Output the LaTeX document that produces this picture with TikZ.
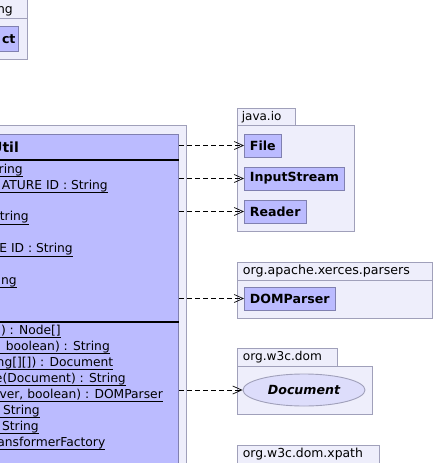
\documentclass[tikz,border=0pt]{standalone}
\usepackage{fontspec}
\setmainfont{DejaVu Sans}
\usetikzlibrary{arrows.meta,shapes.geometric}
\definecolor{pkgfill}{RGB}{238,238,251}
\definecolor{pkgline}{RGB}{160,160,186}
\definecolor{clsfill}{RGB}{187,187,255}
\definecolor{clsline}{RGB}{128,128,176}
\definecolor{ifcfill}{RGB}{221,221,251}
\newcommand\pkgfont{\fontsize{12.4pt}{15pt}\selectfont}
\newcommand\memberfont{\fontsize{12.3pt}{15pt}\selectfont}
\newcommand\clsfont{\fontsize{12.6pt}{15pt}\selectfont\bfseries}
\newcommand\ulattr[1]{\setbox0\hbox{#1}\llap{\rule[-3.6pt]{30pt}{0.9pt}}\rlap{\rule[-3.6pt]{\wd0}{0.9pt}}\box0}
\newcommand\pkgname[2]{\resizebox{#1}{!}{#2}}

\tikzset{
  pkg/.style={fill=pkgfill, draw=pkgline, line width=0.9pt},
  pkglabel/.style={font=\pkgfont, inner sep=0pt, anchor=base west},
  clsbox/.style={fill=clsfill, draw=clsline, line width=0.9pt, inner sep=0pt},
  cls/.style={clsbox, font=\clsfont, inner xsep=5.5pt, inner ysep=0pt, minimum height=23pt, anchor=west},
  ifc/.style={ellipse, fill=ifcfill, draw=pkgline, line width=0.9pt, font=\clsfont\itshape, minimum width=122pt, minimum height=32pt, inner sep=0pt},
  clsname/.style={font=\fontsize{14pt}{17pt}\selectfont\bfseries, inner sep=0pt, anchor=base east},
  member/.style={font=\memberfont, inner sep=0pt, anchor=base east},
  sep/.style={line width=1.2pt},
  dep/.style={-{Straight Barb[length=9pt,width=8pt]}, dash pattern=on 5pt off 3pt, line width=0.7pt},
}

\begin{document}
\begin{tikzpicture}[x=1pt, y=-1pt]
  \useasboundingbox (0,0) rectangle (433,463);

  % package cut at the top left
  \draw[pkg] (-20,-5) rectangle (27,18);
  \draw[pkg] (-20,18) rectangle (27,59);
  \node[pkglabel, anchor=base east] (langlbl) at (13,13.5) {ng};
  \draw[clsbox] (-20,26) rectangle (18,51);
  \node[member, font=\clsfont] (object) at (15.7,43) {ct};

  % package of the util class
  \draw[pkg] (-20,125) rectangle (186,480);
  \node[clsbox, anchor=north east, minimum width=200pt, minimum height=346pt] (util) at (179,134) {};
  \node[clsname] (utilname) at (19,152.3) {Util};
  \draw[sep] (-20,160) -- (179,160);
  \draw[sep] (-20,322) -- (179,322);

  \node[member] (a1) at (23,173.3) {\ulattr{ring}};
  \node[member] (a2) at (108,189.3) {\ulattr{ATURE ID : String}};
  \node[member] (a3) at (29,220.8) {\ulattr{tring}};
  \node[member] (a4) at (73,252.8) {\ulattr{E ID : String}};
  \node[member] (a5) at (17,284.5) {\ulattr{ng}};

  \node[member] (m1) at (61,334.3) {\ulattr{) : Node[]}};
  \node[member] (m2) at (110,350.3) {\ulattr{boolean) : String}};
  \node[member] (m3) at (113.5,366.3) {\ulattr{ng[][]) : Document}};
  \node[member] (m4) at (126,382.3) {\ulattr{e(Document) : String}};
  \node[member] (m5) at (163,398.3) {\ulattr{ver, boolean) : DOMParser}};
  \node[member] (m6) at (40,414.3) {\ulattr{String}};
  \node[member] (m7) at (39,430.3) {\ulattr{String}};
  \node[member] (m8) at (105.5,446.3) {\ulattr{ansformerFactory}};

  % java.io
  \draw[pkg] (237,108) rectangle (295,125);
  \draw[pkg] (237,125) rectangle (354,231);
  \node[pkglabel] (javaio) at (241.7,120.7) {\pkgname{39.5pt}{java.io}};
  \node[cls] (file) at (244,145.5) {File};
  \node[cls] (inputstream) at (244,178.5) {InputStream};
  \node[cls] (reader) at (244,211.5) {Reader};

  % org.apache.xerces.parsers
  \draw[pkg] (237,262) rectangle (432,280);
  \draw[pkg] (237,280) rectangle (432,318);
  \node[pkglabel] (xerces) at (242.7,274.7) {\pkgname{167pt}{org.apache.xerces.parsers}};
  \node[cls] (domparser) at (244,298.5) {DOMParser};

  % org.w3c.dom
  \draw[pkg] (237,348) rectangle (337,366);
  \draw[pkg] (237,366) rectangle (372,414.5);
  \node[pkglabel] (w3cdom) at (242.7,360.7) {\pkgname{79pt}{org.w3c.dom}};
  \node[ifc] (document) at (304,390) {Document};

  % org.w3c.dom.xpath
  \draw[pkg] (237,445) rectangle (379,475);
  \node[pkglabel] (xpath) at (242.7,457.7) {\pkgname{120pt}{org.w3c.dom.xpath}};

  % dependencies
  \draw[dep] (util.east |- file) -- (file);
  \draw[dep] (util.east |- inputstream) -- (inputstream);
  \draw[dep] (util.east |- reader) -- (reader);
  \draw[dep] (util.east |- domparser) -- (domparser);
  \draw[dep] (util.east |- document) -- (document);
\end{tikzpicture}
\end{document}
